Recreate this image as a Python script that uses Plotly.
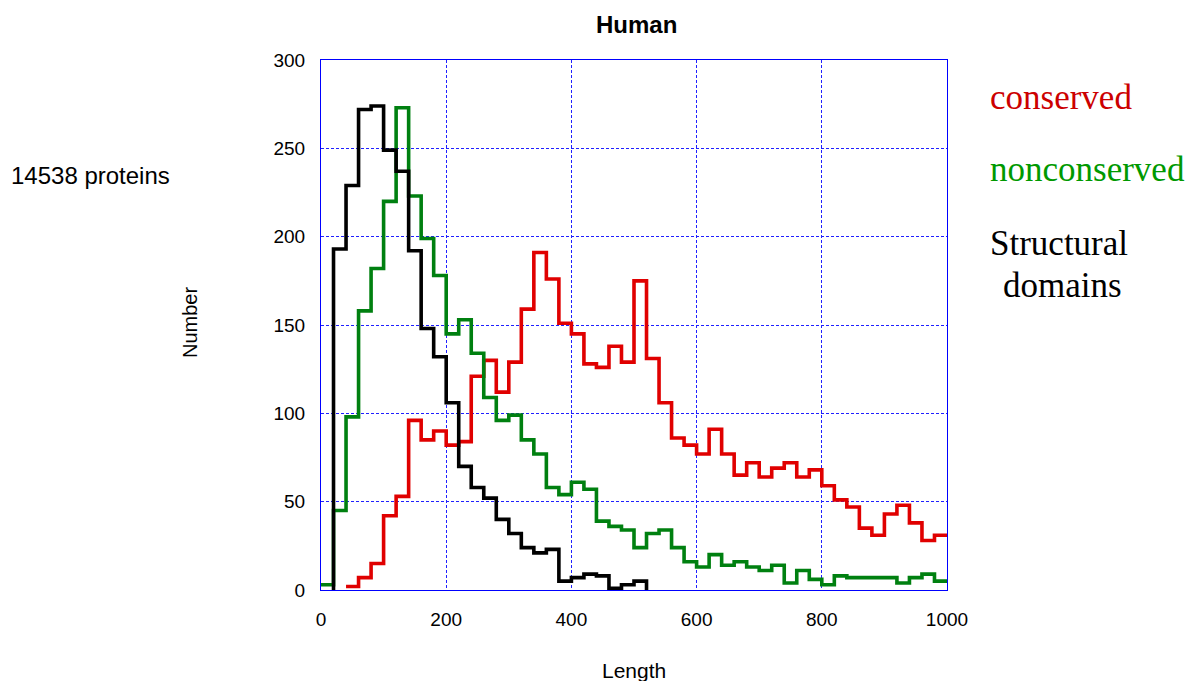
import plotly.graph_objects as go

BIN = 20

# bin start values (length) and counts
red_start = 40
red_counts = [2, 7, 15, 42, 53, 96, 85, 90, 82, 84, 121, 130, 112, 129, 159,
              191, 176, 151, 145, 128, 126, 138, 129, 175, 131, 106, 86, 82, 77, 91,
              77, 65, 72, 64, 69, 72, 64, 68, 59, 51, 47, 35, 31, 43, 48, 38, 28, 31]

green_start = 0
green_counts = [3, 45, 98, 158, 182, 220, 273, 223, 199, 178, 145, 153, 134, 109, 96,
                99, 85, 77, 58, 54, 61, 57, 39, 36, 34, 24, 32, 34, 24, 16,
                13, 20, 14, 16, 13, 11, 14, 4, 11, 6, 3, 8, 7, 7, 7, 7, 4, 7, 9, 5]

black_start = 20
black_counts = [193, 229, 272, 274, 249, 237, 192, 148, 132, 106, 70, 58, 52, 40, 32,
                24, 21, 23, 5, 7, 9, 8, 1, 3, 5]

x_ticks = [0, 200, 400, 600, 800, 1000]
y_ticks = [0, 50, 100, 150, 200, 250, 300]


def step_xy(start, counts, first_y, last_y):
    starts = [start + i * BIN for i in range(len(counts))]
    end = starts[-1] + BIN
    xs = [start] + starts + [end]
    ys = [first_y] + list(counts) + [last_y]
    return xs, ys


fig = go.Figure()

rx, ry = step_xy(red_start, red_counts, red_counts[0], red_counts[-1])
gx, gy = step_xy(green_start, green_counts, green_counts[0], green_counts[-1])
bx, by = step_xy(black_start, black_counts, 0, 0)

fig.add_trace(go.Scatter(x=rx, y=ry, mode="lines", line=dict(color="#e00000", width=3.6, shape="hv"),
                         name="conserved", showlegend=False))
fig.add_trace(go.Scatter(x=gx, y=gy, mode="lines", line=dict(color="#008010", width=3.6, shape="hv"),
                         name="nonconserved", showlegend=False))
fig.add_trace(go.Scatter(x=bx, y=by, mode="lines", line=dict(color="#000000", width=3.6, shape="hv"),
                         name="Structural domains", showlegend=False))

axis_common = dict(
    showgrid=True, gridcolor="#2020ff", gridwidth=1, griddash="3px,2px",
    showline=True, linecolor="#0000ff", linewidth=1, mirror=True,
    zeroline=False, ticks="",
    tickfont=dict(family="Liberation Sans, Arial", size=19, color="#000000"),
)

fig.update_layout(
    width=1187, height=681,
    margin=dict(l=321, r=240, t=60, b=91),
    plot_bgcolor="white", paper_bgcolor="white",
    xaxis=dict(range=[0, 1000], tickvals=x_ticks, ticklabelstandoff=12, **axis_common),
    yaxis=dict(range=[0, 300], tickvals=y_ticks, ticklabelstandoff=11, **axis_common),
    showlegend=False,
)

def px_x(px):
    return (px - 321) / 626.0

def px_y(py):
    return (590 - py) / 530.0

anns = [
    dict(text="<b>Human</b>", x=px_x(636), y=px_y(24), size=24, family="Liberation Sans, Arial", color="#000000", xanchor="center"),
    dict(text="Length", x=px_x(634), y=px_y(670), size=21, family="Liberation Sans, Arial", color="#000000", xanchor="center"),
    dict(text="14538 proteins", x=px_x(9), y=px_y(176), size=24, family="Liberation Sans, Arial", color="#000000", xanchor="left"),
    dict(text="conserved", x=px_x(988), y=px_y(97), size=35, family="Liberation Serif, Times New Roman", color="#cc0000", xanchor="left"),
    dict(text="nonconserved", x=px_x(988), y=px_y(170), size=35, family="Liberation Serif, Times New Roman", color="#009900", xanchor="left"),
    dict(text="Structural", x=px_x(988), y=px_y(243), size=35, family="Liberation Serif, Times New Roman", color="#000000", xanchor="left"),
    dict(text="domains", x=px_x(1001), y=px_y(285), size=35, family="Liberation Serif, Times New Roman", color="#000000", xanchor="left"),
]
for a in anns:
    fig.add_annotation(text=a["text"], x=a["x"], y=a["y"], xref="paper", yref="paper",
                       xanchor=a["xanchor"], yanchor="middle", showarrow=False,
                       font=dict(family=a["family"], size=a["size"], color=a["color"]))

fig.add_annotation(text="Number", x=px_x(190), y=px_y(323), xref="paper", yref="paper",
                   textangle=-90, showarrow=False, xanchor="center", yanchor="middle",
                   font=dict(family="Liberation Sans, Arial", size=20, color="#000000"))

fig.write_html("out.html")
